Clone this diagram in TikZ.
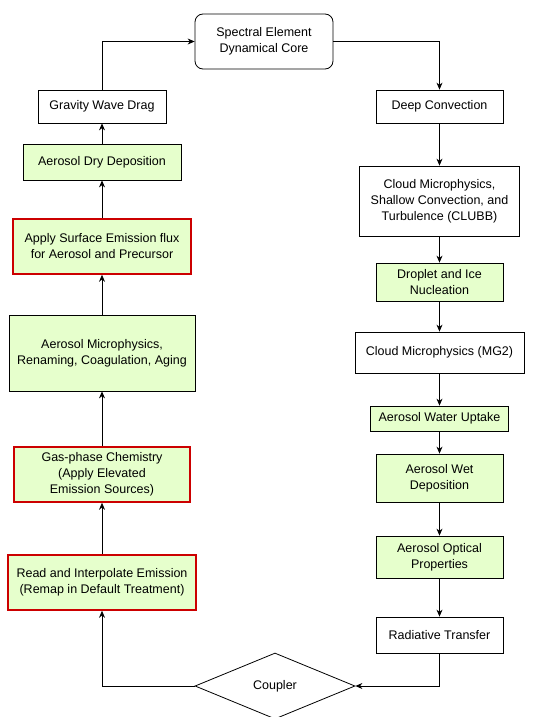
\documentclass[tikz,border=0pt]{standalone}
\usepackage{fontspec}
\setmainfont{Liberation Sans}
\usetikzlibrary{arrows.meta,shapes.geometric}
\definecolor{aerogreen}{HTML}{E6FFCC}
\definecolor{emisred}{HTML}{CC0000}
\begin{document}
\begin{tikzpicture}[x=1pt,y=-1pt,
    font=\fontsize{12.5}{16}\selectfont,
    proc/.style={draw,line width=0.8pt,align=center,inner sep=0pt},
    aero/.style={proc,fill=aerogreen},
    emis/.style={aero,draw=emisred,line width=1.6pt},
    flow/.style={line width=0.8pt,-{Stealth[length=7pt,width=6pt]}}]
                \useasboundingbox (0,0) rectangle (533,717);
                \node[proc,rounded corners=8pt,minimum width=138pt,minimum height=55pt] (core) at (264,41.5) {Spectral Element\\Dynamical Core};
                % left column
                \node[proc,minimum width=128pt,minimum height=33pt] (gwd) at (102,106.5) {Gravity Wave Drag};
                \node[aero,minimum width=158pt,minimum height=36pt] (dry) at (102,162) {Aerosol Dry Deposition};
                \node[emis,minimum width=178pt,minimum height=55pt] (sfc) at (102,246.5) {Apply Surface Emission flux\\for Aerosol and Precursor};
                \node[aero,minimum width=186pt,minimum height=76pt] (mam) at (102,353) {Aerosol Microphysics,\\Renaming, Coagulation, Aging};
                \node[emis,minimum width=176pt,minimum height=55pt] (gas) at (102,474.5) {Gas-phase Chemistry\\(Apply Elevated\\Emission Sources)};
                \node[emis,minimum width=188pt,minimum height=55pt] (read) at (102,582.5) {Read and Interpolate Emission\\(Remap in Default Treatment)};
                % right column
                \node[proc,minimum width=127pt,minimum height=33pt] (deep) at (439.5,106.5) {Deep Convection};
                \node[proc,minimum width=160pt,minimum height=70pt] (clubb) at (439.5,201) {Cloud Microphysics,\\Shallow Convection, and\\Turbulence (CLUBB)};
                \node[aero,minimum width=127pt,minimum height=38pt] (nucl) at (439.5,282) {Droplet and Ice\\Nucleation};
                \node[proc,minimum width=169pt,minimum height=41pt] (mg2) at (439.5,352.5) {Cloud Microphysics (MG2)};
                \node[aero,minimum width=138pt,minimum height=25pt] (water) at (439.5,418.5) {Aerosol Water Uptake};
                \node[aero,minimum width=127pt,minimum height=48pt] (wet) at (439.5,478) {Aerosol Wet\\Deposition};
                \node[aero,minimum width=127pt,minimum height=42pt] (optic) at (439.5,557) {Aerosol Optical\\Properties};
                \node[proc,minimum width=127pt,minimum height=36pt] (rad) at (439.5,635) {Radiative Transfer};
                \node[proc,shape=diamond,shape aspect=2.4,minimum width=160pt,minimum height=66pt] (cpl) at (275,686) {Coupler};
                \draw[flow] (cpl.west) -| (read.south);
                \draw[flow] (read) -- (gas);
                \draw[flow] (gas) -- (mam);
                \draw[flow] (mam) -- (sfc);
                \draw[flow] (sfc) -- (dry);
                \draw[flow] (dry) -- (gwd);
                \draw[flow] (gwd.north) |- (core.west);
                \draw[flow] (core.east) -| (deep.north);
                \draw[flow] (deep) -- (clubb);
                \draw[flow] (clubb) -- (nucl);
                \draw[flow] (nucl) -- (mg2);
                \draw[flow] (mg2) -- (water);
                \draw[flow] (water) -- (wet);
                \draw[flow] (wet) -- (optic);
                \draw[flow] (optic) -- (rad);
                \draw[flow] (rad.south) |- (cpl.east);
            \end{tikzpicture}
\end{document}
